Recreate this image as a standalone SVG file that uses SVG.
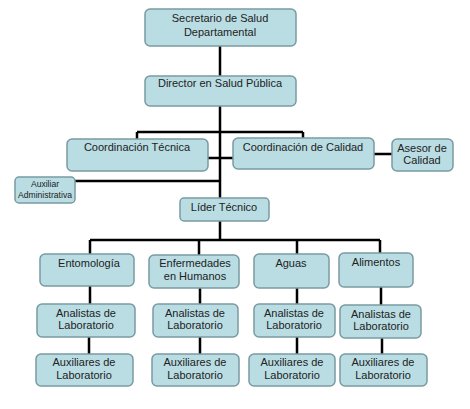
<svg xmlns="http://www.w3.org/2000/svg" width="470" height="409" viewBox="0 0 470 409">
<style>
.box{fill:#b9dde3;stroke:#7a9aa2;stroke-width:1.5}
text{font-family:"Liberation Sans",Arial,sans-serif;font-size:11px;fill:#222;text-anchor:middle}
.sm{font-size:8.6px}
.c{stroke:#000;stroke-width:2.5;fill:none}
</style>
<rect width="470" height="409" fill="#fff"/>
<g id="connectors">
<path class="c" d="M220,46V76M220,106V132M137,132H303M137,132V139M303,132V138M220,132V198M208,158H233M75,181H220M374,154H392M220,221V240M90,240H380M90,240V254M199,240V255M297,240V254M380,240V253M90,286V304M89,337V354M200,288V304M200,337V354M297,288V304M297,337V354M381,287V305M382,338V354"/>
</g>
<g id="secretario"><rect class="box" x="145" y="9" width="151" height="37" rx="5"/><text x="220" y="22">Secretario de Salud</text><text x="220" y="36">Departamental</text></g>
<g id="director"><rect class="box" x="145" y="76" width="151" height="30" rx="5"/><text x="220" y="87">Director en Salud Pública</text></g>
<g id="coord-tecnica"><rect class="box" x="67" y="139" width="141" height="32" rx="5"/><text x="137" y="151">Coordinación Técnica</text></g>
<g id="coord-calidad"><rect class="box" x="233" y="138" width="141" height="31" rx="5"/><text x="303" y="151">Coordinación de Calidad</text></g>
<g id="asesor"><rect class="box" x="392" y="139" width="61" height="32" rx="5"/><text x="422" y="152">Asesor de</text><text x="422" y="164">Calidad</text></g>
<g id="auxiliar-admin"><rect class="box" x="15" y="177" width="60" height="26" rx="4"/><text class="sm" x="45" y="187">Auxiliar</text><text class="sm" x="45" y="198">Administrativa</text></g>
<g id="lider"><rect class="box" x="180" y="198" width="89" height="23" rx="4"/><text x="224" y="211">Líder Técnico</text></g>
<g id="entomologia"><rect class="box" x="40" y="254" width="94" height="32" rx="5"/><text x="89" y="267">Entomología</text></g>
<g id="enfermedades"><rect class="box" x="149" y="255" width="90" height="33" rx="5"/><text x="195" y="267">Enfermedades</text><text x="195" y="280">en Humanos</text></g>
<g id="aguas"><rect class="box" x="254" y="254" width="75" height="34" rx="5"/><text x="291" y="267">Aguas</text></g>
<g id="alimentos"><rect class="box" x="339" y="253" width="74" height="34" rx="5"/><text x="376" y="266">Alimentos</text></g>
<g id="analistas-1"><rect class="box" x="37" y="304" width="98" height="33" rx="5"/><text x="86" y="317">Analistas de</text><text x="86" y="329">Laboratorio</text></g>
<g id="analistas-2"><rect class="box" x="153" y="304" width="85" height="33" rx="5"/><text x="195" y="317">Analistas de</text><text x="195" y="329">Laboratorio</text></g>
<g id="analistas-3"><rect class="box" x="254" y="304" width="81" height="33" rx="5"/><text x="294" y="317">Analistas de</text><text x="294" y="329">Laboratorio</text></g>
<g id="analistas-4"><rect class="box" x="340" y="305" width="81" height="33" rx="5"/><text x="381" y="318">Analistas de</text><text x="381" y="330">Laboratorio</text></g>
<g id="auxiliares-1"><rect class="box" x="36" y="354" width="97" height="32" rx="5"/><text x="84" y="366">Auxiliares de</text><text x="84" y="379">Laboratorio</text></g>
<g id="auxiliares-2"><rect class="box" x="152" y="354" width="87" height="32" rx="5"/><text x="195" y="366">Auxiliares de</text><text x="195" y="379">Laboratorio</text></g>
<g id="auxiliares-3"><rect class="box" x="249" y="354" width="86" height="32" rx="5"/><text x="292" y="366">Auxiliares de</text><text x="292" y="379">Laboratorio</text></g>
<g id="auxiliares-4"><rect class="box" x="340" y="354" width="87" height="32" rx="5"/><text x="383" y="366">Auxiliares de</text><text x="383" y="379">Laboratorio</text></g>
</svg>
